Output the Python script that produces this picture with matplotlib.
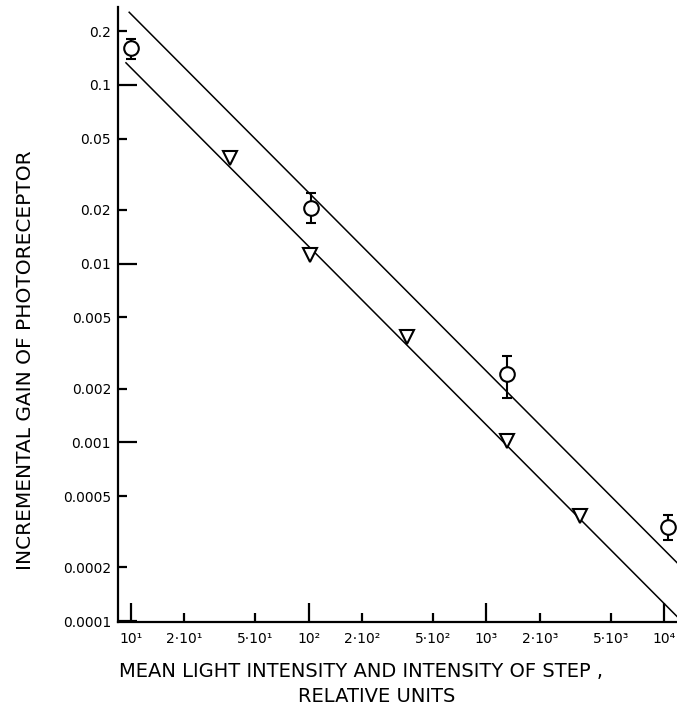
#!/usr/bin/python3
# -*- coding: utf-8 -*-
import numpy as np
import matplotlib
matplotlib.use('Agg')
import matplotlib.pyplot as plt
from matplotlib.ticker import FixedLocator, FixedFormatter

# circles: gain measured with steps (mean +- spread)
circ_x = [10, 103, 1300, 10450]
circ_y = [0.16, 0.0204, 0.0024, 0.000334]
circ_lo = [0.14, 0.0168, 0.00177, 0.000284]
circ_hi = [0.18, 0.0247, 0.00303, 0.000393]

# triangles: gain from the other series
tri_x = [36, 102, 359, 1300, 3360]
tri_y = [0.0389, 0.0112, 0.0039, 0.00102, 0.000388]

# fitted lines, gain = k / I
fit_k = [2.5, 1.25]
fit_start = [9.8, 9.4]
fit_end = 13000

# axis ticks
x_major = [1e1, 1e2, 1e3, 1e4]
x_major_lbl = ['10¹', '10²', '10³', '10⁴']
x_minor = [2e1, 5e1, 2e2, 5e2, 2e3, 5e3]
x_minor_lbl = ['2·10¹', '5·10¹', '2·10²', '5·10²', '2·10³', '5·10³']
y_major = [0.1, 0.01, 0.001, 0.0001]
y_major_lbl = ['0.1', '0.01', '0.001', '0.0001']
y_minor = [0.2, 0.05, 0.02, 0.005, 0.002, 0.0005, 0.0002]
y_minor_lbl = ['0.2', '0.05', '0.02', '0.005', '0.002', '0.0005', '0.0002']

plt.rcParams['font.family'] = ['DejaVu Sans']

fig = plt.figure(figsize=(6.77, 7.21), dpi=100)
ax = fig.add_axes([0.1743, 0.1373, 0.8257, 0.853])
ax.set_xscale('log')
ax.set_yscale('log')
ax.set_xlim(8.48, 11780)
ax.set_ylim(9.88e-5, 0.273)

for k, x0 in zip(fit_k, fit_start):
    xs = np.array([x0, fit_end])
    ax.plot(xs, k / xs, color='black', lw=1.1, clip_on=True)

err = [np.array(circ_y) - np.array(circ_lo), np.array(circ_hi) - np.array(circ_y)]
ax.errorbar(circ_x, circ_y, yerr=err, fmt='o', ms=10.5, mfc='white',
            mec='black', mew=1.5, ecolor='black', elinewidth=1.5,
            capsize=3.6, capthick=1.5, zorder=3)
ax.plot(tri_x, tri_y, 'v', ms=10, mfc='white', mec='black', mew=1.5,
        linestyle='none', zorder=3)

# axes: only left and bottom, ticks pointing in
for s in ['top', 'right']:
    ax.spines[s].set_visible(False)
for s in ['left', 'bottom']:
    ax.spines[s].set_linewidth(1.6)

ax.xaxis.set_major_locator(FixedLocator(x_major))
ax.xaxis.set_major_formatter(FixedFormatter(x_major_lbl))
ax.xaxis.set_minor_locator(FixedLocator(x_minor))
ax.xaxis.set_minor_formatter(FixedFormatter(x_minor_lbl))
ax.yaxis.set_major_locator(FixedLocator(y_major))
ax.yaxis.set_major_formatter(FixedFormatter(y_major_lbl))
ax.yaxis.set_minor_locator(FixedLocator(y_minor))
ax.yaxis.set_minor_formatter(FixedFormatter(y_minor_lbl))

ax.tick_params(which='major', direction='in', length=14, width=1.6,
               labelsize=10)
ax.tick_params(which='minor', direction='in', length=6.5, width=1.6,
               labelsize=10)
ax.tick_params(axis='x', which='both', pad=7)
ax.tick_params(axis='y', which='both', pad=5)

fig.text(0.037, 0.5007, 'INCREMENTAL GAIN OF PHOTORECEPTOR', rotation=90,
         ha='center', va='center', fontsize=14.5)
fig.text(0.533, 0.0693, 'MEAN LIGHT INTENSITY AND INTENSITY OF STEP ,',
         ha='center', va='center', fontsize=14)
fig.text(0.557, 0.0333, 'RELATIVE UNITS', ha='center', va='center',
         fontsize=14)

plt.savefig('out.png', dpi=100)
